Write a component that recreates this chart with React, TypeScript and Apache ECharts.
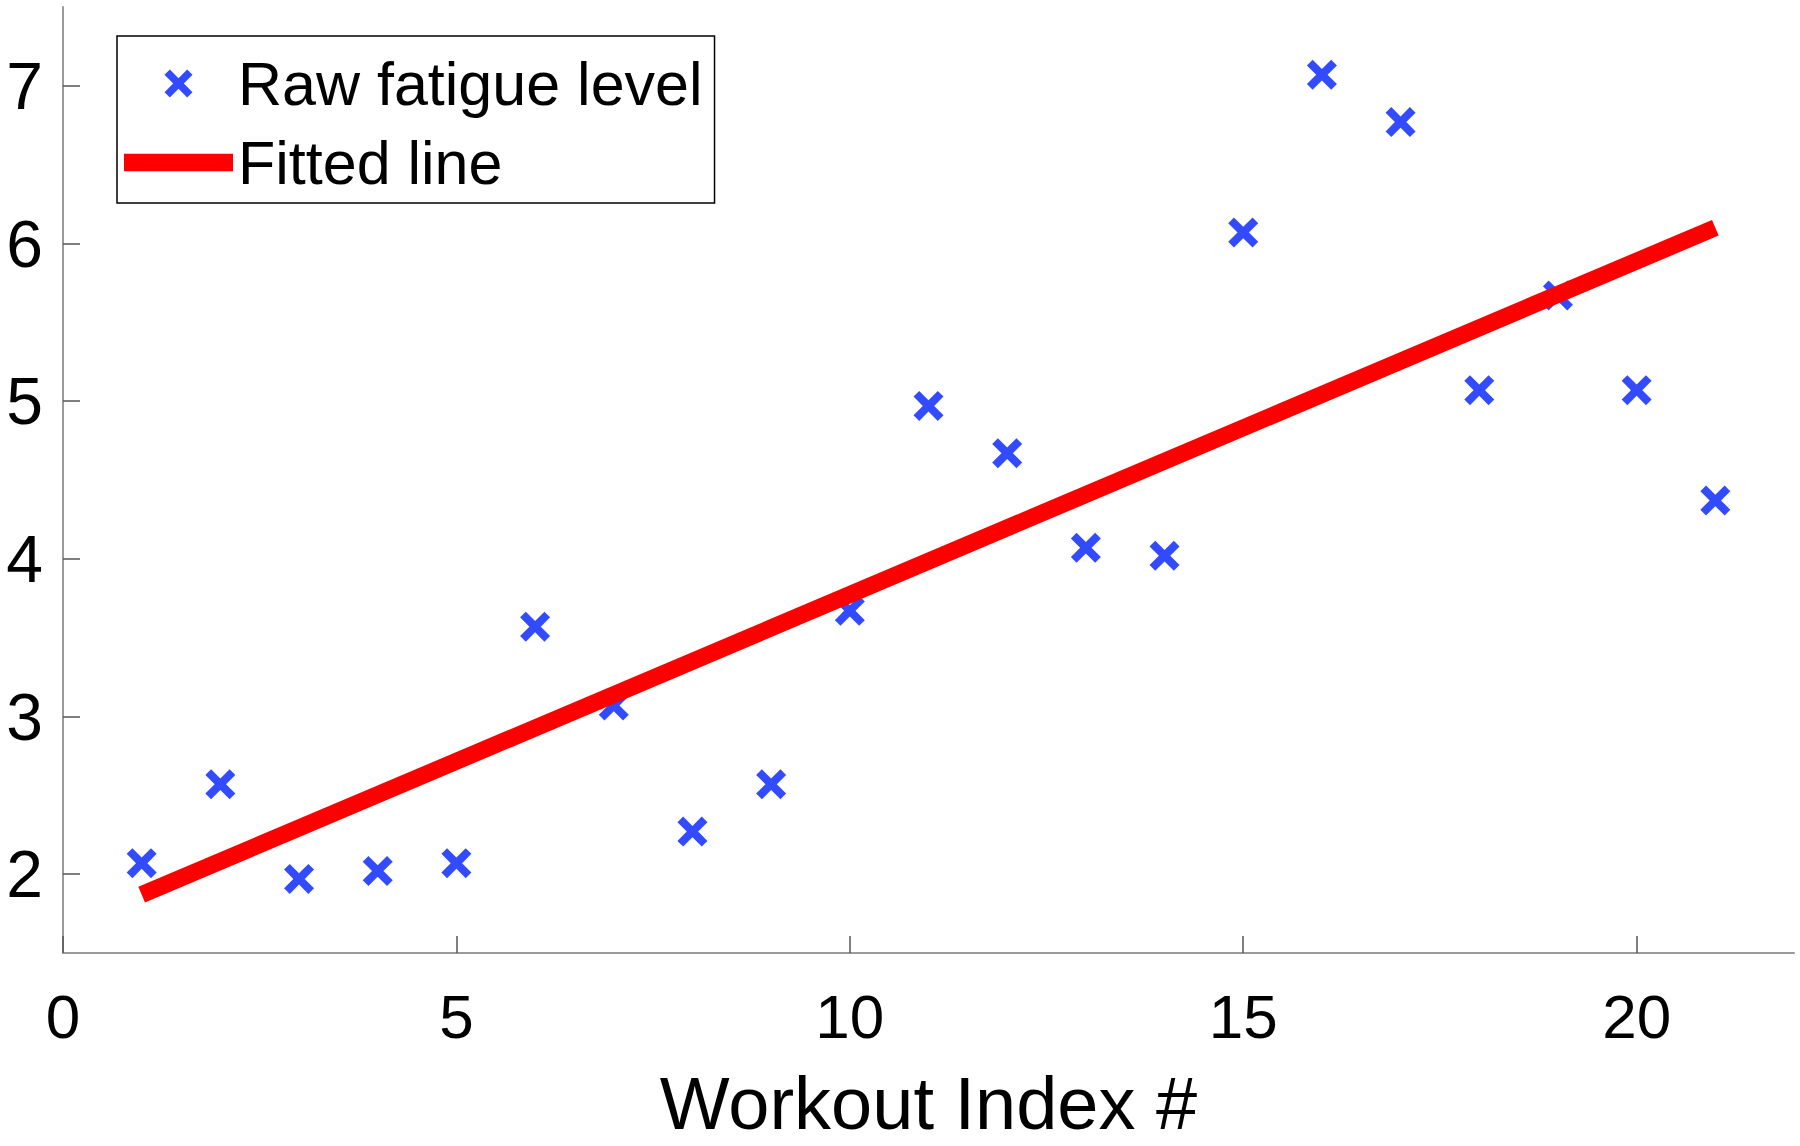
import React, { useEffect, useRef } from "react";
import * as echarts from "echarts";

const workoutIndex = [1, 2, 3, 4, 5, 6, 7, 8, 9, 10, 11, 12, 13, 14, 15, 16, 17, 18, 19, 20, 21];
const rawFatigue = [2.07, 2.57, 1.97, 2.02, 2.07, 3.57, 3.07, 2.27, 2.57, 3.67, 4.97, 4.67, 4.07, 4.02, 6.07, 7.07, 6.77, 5.07, 5.67, 5.07, 4.37];
const fitX = [1, 21];
const fitY = [1.87, 6.1];
const xTicks = [0, 5, 10, 15, 20];
const yTicks = [2, 3, 4, 5, 6, 7];
const seriesNames = ["Raw fatigue level", "Fitted line"];
const xAxisName = "Workout Index #";

const X_PATH =
  "path://M0,19L19,0L50,31L81,0L100,19L69,50L100,81L81,100L50,69L19,100L0,81L31,50Z";
const BAR_PATH = "path://M0,0H107V17H0Z";
const FONT = "'Liberation Sans', Arial, Helvetica, sans-serif";
const BLUE = "#001eff";
const RED = "#ff0000";

export default function App() {
  const ref = useRef<HTMLDivElement>(null);
  useEffect(() => {
    if (!ref.current) return;
    const chart = echarts.init(ref.current, undefined, { renderer: "svg" });
    const option: any = {
      animation: false,
      backgroundColor: "#ffffff",
      textStyle: { fontFamily: FONT },
      grid: { left: 63, right: 6, top: 7, bottom: 193, containLabel: false, outerBoundsMode: "none" },
      legend: {
        orient: "vertical",
        left: 117,
        top: 36,
        itemWidth: 109,
        itemHeight: 28,
        itemGap: 18,
        padding: [17, 12, 10, 7],
        borderColor: "#000000",
        borderWidth: 1.5,
        borderRadius: 0,
        backgroundColor: "#ffffff",
        textStyle: { fontSize: 61, color: "#000000", fontFamily: FONT },
        data: [
          { name: seriesNames[0], icon: X_PATH, itemStyle: { color: BLUE, borderWidth: 0 } },
          { name: seriesNames[1], icon: BAR_PATH, itemStyle: { color: RED, borderWidth: 0 } },
        ],
      },
      xAxis: {
        type: "value",
        min: 0,
        max: 22,
        name: xAxisName,
        nameLocation: "middle",
        nameGap: 119,
        nameTextStyle: { fontSize: 74, lineHeight: 62, color: "#000000", fontFamily: FONT },
        axisLine: { show: true, lineStyle: { color: "#9a9a9a", width: 2 } },
        axisTick: { show: true, inside: true, length: 17, customValues: xTicks, lineStyle: { color: "#555555", width: 1.5 } },
        axisLabel: { customValues: xTicks, fontSize: 62, color: "#000000", margin: 32, fontFamily: FONT },
        splitLine: { show: false },
      },
      yAxis: {
        type: "value",
        min: 1.5,
        max: 7.5,
        axisLine: { show: true, lineStyle: { color: "#9a9a9a", width: 2 } },
        axisTick: { show: true, inside: true, length: 17, customValues: yTicks, lineStyle: { color: "#555555", width: 1.5 } },
        axisLabel: { customValues: yTicks, fontSize: 66, color: "#000000", margin: 20, fontFamily: FONT },
        splitLine: { show: false },
      },
      series: [
        {
          name: seriesNames[0],
          type: "scatter",
          symbol: X_PATH,
          symbolSize: 30,
          itemStyle: { color: BLUE },
          data: workoutIndex.map((x, i) => [x, rawFatigue[i]]),
          z: 2,
        },
        {
          name: seriesNames[1],
          type: "line",
          symbol: "none",
          lineStyle: { color: RED, width: 17, cap: "butt" },
          itemStyle: { color: RED },
          data: fitX.map((x, i) => [x, fitY[i]]),
          z: 3,
        },
      ],
    };
    chart.setOption(option);
    return () => chart.dispose();
  }, []);
  return (
    <div
      ref={ref}
      style={{ position: "absolute", left: 0, top: 0, width: 1800, height: 1146 }}
    />
  );
}
